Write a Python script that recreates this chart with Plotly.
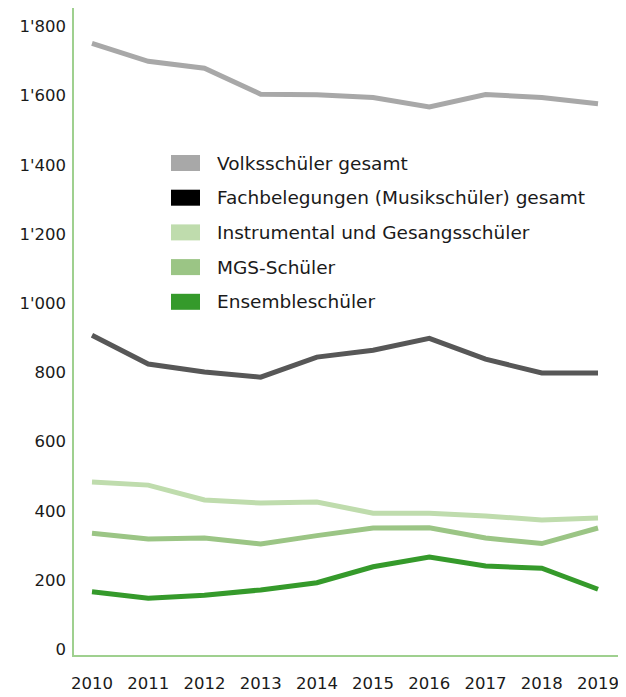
import plotly.graph_objects as go

jahre = [2010, 2011, 2012, 2013, 2014, 2015, 2016, 2017, 2018, 2019]

volksschueler = [1751, 1699, 1679, 1604, 1602, 1594, 1567, 1603, 1594, 1576]
fachbelegungen = [907, 824, 801, 786, 844, 864, 898, 838, 798, 798]
instrumental = [483, 474, 431, 422, 425, 393, 393, 385, 373, 379]
mgs = [335, 318, 321, 304, 328, 350, 351, 321, 305, 350]
ensemble = [166, 147, 156, 171, 192, 238, 266, 240, 234, 173]

y_ticks = [0, 200, 400, 600, 800, 1000, 1200, 1400, 1600, 1800]
y_labels = ["0", "200", "400", "600", "800", "1'000", "1'200", "1'400", "1'600", "1'800"]

serien = [
    ("Volksschüler gesamt", volksschueler, "#a8a8a8", "#a8a8a8"),
    ("Fachbelegungen (Musikschüler) gesamt", fachbelegungen, "#575757", "#000000"),
    ("Instrumental und Gesangsschüler", instrumental, "#bfdcad", "#bfdcad"),
    ("MGS-Schüler", mgs, "#9bc585", "#9bc585"),
    ("Ensembleschüler", ensemble, "#359a2b", "#359a2b"),
]

FONT = "DejaVu Sans"

# die Seite hat 8px Rand, Plotfläche liegt auf der Seite bei x 74..625, y 8..655
PX0, PW = 74, 551
PY0, PH = 8, 647

def px(x):
    return (x - PX0) / PW

def py(y):
    return 1 - (y - PY0) / PH

fig = go.Figure()
for name, werte, farbe, _ in serien:
    fig.add_trace(go.Scatter(
        x=jahre, y=werte, name=name, mode="lines",
        line=dict(color=farbe, width=5),
        showlegend=False, hoverinfo="x+y+name",
    ))

# Legende von Hand (rechteckige Farbfelder)
for i, (name, _, _, swatch) in enumerate(serien):
    y0 = 155 + i * 34.7
    fig.add_shape(type="rect", xref="paper", yref="paper",
                  x0=px(171), x1=px(200), y0=py(y0 + 16), y1=py(y0),
                  fillcolor=swatch, line_width=0, layer="above")
    fig.add_annotation(text=name, xref="paper", yref="paper",
                       x=px(215), y=py(y0 + 8),
                       xanchor="left", yanchor="middle", showarrow=False,
                       font=dict(family=FONT, size=18.5, color="#1a1a1a"))

fig.update_layout(
    width=618, height=689,
    margin=dict(l=66, r=1, t=0, b=42, autoexpand=False),
    paper_bgcolor="white", plot_bgcolor="white",
    font=dict(family=FONT, size=16.5, color="#1a1a1a"),
    xaxis=dict(
        range=[2009.68, 2019.48], tickvals=jahre, automargin=False,
        showgrid=False, zeroline=False,
        showline=True, linecolor="#9fd08f", linewidth=1.5,
        ticks="outside", ticklen=12, tickcolor="rgba(0,0,0,0)",
    ),
    yaxis=dict(
        range=[-17, 1853], tickvals=y_ticks, ticktext=y_labels, automargin=False,
        showgrid=False, zeroline=False,
        showline=True, linecolor="#9fd08f", linewidth=1.5,
        ticks="outside", ticklen=3, tickcolor="rgba(0,0,0,0)",
    ),
    showlegend=False,
)

fig.write_html("out.html")
